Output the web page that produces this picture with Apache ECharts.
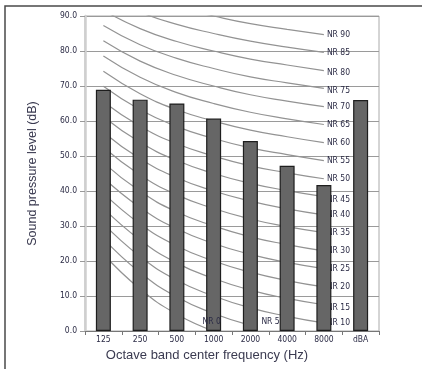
<!DOCTYPE html>
<html>
<head>
<meta charset="utf-8">
<script src="https://cdn.jsdelivr.net/npm/echarts@6/dist/echarts.min.js"></script>
<style>html,body{margin:0;padding:0;background:#fff}#c{width:422px;height:369px}</style>
</head>
<body>
<div id="c"></div>
<script>
// Categories (octave band centre frequencies)
const categories = ['125', '250', '500', '1000', '2000', '4000', '8000', 'dBA'];
// Measured sound pressure levels (dB)
const spl = [68.9, 66.1, 65.0, 60.7, 54.3, 47.2, 41.7, 66.0];
// Y-axis range
const yMin = 0, yMax = 90, yStep = 10;

// NR curves (values at 125..8000 Hz)
const nr0  = [22.0, 12.0, 4.8, 0.0];
const nr5  = [26.4, 16.7, 9.7, 5.0, 1.6];
const nr10 = [30.7, 21.3, 14.5, 10.0, 6.6, 4.2, 2.3];
const nr15 = [35.1, 26.0, 19.4, 15.0, 11.7, 9.3, 7.5];
const nr20 = [39.4, 30.6, 24.3, 20.0, 16.8, 14.4, 12.6];
const nr25 = [43.8, 35.3, 29.2, 25.0, 21.9, 19.6, 17.8];
const nr30 = [48.1, 39.9, 34.0, 30.0, 26.9, 24.7, 22.9];
const nr35 = [52.5, 44.6, 38.9, 35.0, 32.0, 29.8, 28.1];
const nr40 = [56.8, 49.2, 43.8, 40.0, 37.1, 34.9, 33.2];
const nr45 = [61.2, 53.9, 48.7, 45.0, 42.2, 40.1, 38.4];
const nr50 = [65.5, 58.5, 53.5, 50.0, 47.2, 45.2, 43.5];
const nr55 = [69.9, 63.2, 58.4, 55.0, 52.3, 50.4, 48.7];
const nr60 = [74.2, 67.8, 63.2, 60.0, 57.4, 55.5, 53.8];
const nr65 = [78.6, 72.5, 68.1, 65.0, 62.5, 60.6, 59.0];
const nr70 = [82.9, 77.1, 73.0, 70.0, 67.5, 65.7, 64.1];
const nr75 = [87.3, 81.8, 77.9, 75.0, 72.6, 70.9, 69.3];
const nr80 = [91.6, 86.4, 82.7, 80.0, 77.7, 76.0, 74.4];
const nr85 = [96.0, 91.1, 87.6, 85.0, 82.8, 81.1, 79.6];
const nr90 = [100.3, 95.7, 92.5, 90.0, 87.8, 86.2, 84.7];

const nrCurves = [
  ['NR 90', nr90], ['NR 85', nr85], ['NR 80', nr80], ['NR 75', nr75],
  ['NR 70', nr70], ['NR 65', nr65], ['NR 60', nr60], ['NR 55', nr55],
  ['NR 50', nr50], ['NR 45', nr45], ['NR 40', nr40], ['NR 35', nr35],
  ['NR 30', nr30], ['NR 25', nr25], ['NR 20', nr20], ['NR 15', nr15],
  ['NR 10', nr10], ['NR 5', nr5], ['NR 0', nr0]
];

const labelFont = "'Liberation Sans Narrow','DejaVu Sans Condensed','Liberation Sans',sans-serif";
const labelColor = '#2b2b45';
const endOffsets = {'NR 80': [0, 2], 'NR 75': [0, 2], 'NR 45': [0, 3], 'NR 15': [0, 3], 'NR 5': [8, -4]};

const lineSeries = nrCurves.map(([name, vals]) => {
  const s = {
    name: name,
    type: 'line',
    data: vals,
    smooth: true,
    symbol: 'none',
    silent: true,
    z: 2,
    lineStyle: {color: '#939393', width: 1.2},
    endLabel: {
      show: name !== 'NR 0',
      formatter: '{a}',
      color: labelColor,
      fontSize: 8.5,
      fontFamily: labelFont,
      distance: 3,
      offset: endOffsets[name] || [0, 0]
    }
  };
  if (name === 'NR 0') {
    s.markPoint = {
      symbol: 'circle', symbolSize: 0, silent: true,
      data: [{coord: [categories[vals.length - 1], vals[vals.length - 1]]}],
      label: {show: true, formatter: 'NR 0', position: 'inside', offset: [-2, -9],
              color: labelColor, fontSize: 8.5, fontFamily: labelFont}
    };
  }
  return s;
});

const chart = echarts.init(document.getElementById('c'), null, {renderer: 'canvas'});
chart.setOption({
  animation: false,
  backgroundColor: '#fff',
  graphic: [{
    type: 'rect', silent: true, z: 0,
    shape: {x: 5, y: 6, width: 430, height: 380},
    style: {fill: 'none', stroke: '#4a4a4a', lineWidth: 1.5}
  }],
  grid: {left: 85, right: 43, top: 16, bottom: 38, show: true, borderColor: '#aaa', borderWidth: 1, backgroundColor: 'transparent'},
  xAxis: {
    type: 'category',
    data: categories,
    name: 'Octave band center frequency (Hz)',
    nameLocation: 'middle',
    nameGap: 18,
    nameTextStyle: {fontFamily: "'Liberation Sans',Arial,sans-serif", fontSize: 13, color: '#3a3a50', padding: [0, 50, 0, 0]},
    axisLine: {lineStyle: {color: '#777', width: 1}},
    axisTick: {show: true, length: 4, lineStyle: {color: '#777'}},
    axisLabel: {fontFamily: labelFont, fontSize: 8.5, color: labelColor, margin: 4}
  },
  yAxis: {
    type: 'value',
    min: yMin, max: yMax, interval: yStep,
    name: 'Sound pressure level (dB)',
    nameLocation: 'middle',
    nameGap: 46,
    nameTextStyle: {fontFamily: "'Liberation Sans',Arial,sans-serif", fontSize: 12.5, color: '#3a3a50'},
    axisLine: {show: true, lineStyle: {color: '#cfcfcf', width: 2.5}},
    axisTick: {show: true, length: 5, lineStyle: {color: '#999'}},
    axisLabel: {fontFamily: labelFont, fontSize: 8.5, color: labelColor, margin: 8, formatter: v => v.toFixed(1)},
    splitLine: {lineStyle: {color: '#9a9a9a', width: 1}}
  },
  series: lineSeries.concat([{
    name: 'SPL',
    type: 'bar',
    data: spl,
    barWidth: 15,
    z: 3,
    silent: true,
    itemStyle: {color: '#666', borderColor: '#1e1e1e', borderWidth: 1.2}
  }])
});
</script>
</body>
</html>
